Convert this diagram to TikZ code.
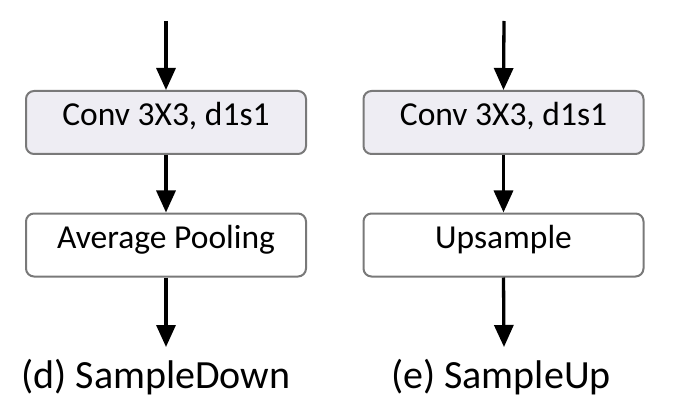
\documentclass[tikz,border=0pt]{standalone}
\usepackage{fontspec}
\setmainfont{Carlito}
\usetikzlibrary{arrows.meta}

\tikzset{
  block/.style={draw=gray!95!black, line width=2pt, rounded corners=8pt,
    minimum width=280pt, minimum height=63pt, inner sep=0pt,
    font=\fontsize{33.5}{38}\selectfont, text height=0.64em, text depth=0pt},
  convblock/.style={block, fill=convfill},
  flow/.style={line width=3.3pt, -{Triangle[length=22pt,width=19pt]}},
  caption/.style={anchor=base, inner sep=0pt, font=\fontsize{40}{46}\selectfont}
}
\definecolor{convfill}{HTML}{EEEDF3}

\begin{document}
\begin{tikzpicture}[x=1pt,y=-1pt]
  \useasboundingbox (0,0) rectangle (675,417);

  % (d) SampleDown
  \coordinate (dtop) at (166,21);
  \node [convblock] (dconv) at (166,122.5) {Conv 3X3, d1s1};
  \node [block] (dpool) at (166,245) {Average Pooling};
  \coordinate (dout) at (166,347);
  \node [caption] (dcap) at (156,388) {(d) SampleDown};
  \draw [flow] (dtop) -- (dconv.north);
  \draw [flow] (dconv.south) -- (dpool.north);
  \draw [flow] (dpool.south) -- (dout);

  % (e) SampleUp
  \coordinate (etop) at (504,21);
  \node [convblock] (econv) at (503.5,122.5) {Conv 3X3, d1s1};
  \node [block] (eup) at (503.5,245) {Upsample};
  \coordinate (eout) at (504,347);
  \node [caption] (ecap) at (501,388) {(e) SampleUp};
  \draw [flow] (etop) -- (econv.north);
  \draw [flow] (econv.south) -- (eup.north);
  \draw [flow] (eup.south) -- (eout);
\end{tikzpicture}
\end{document}
